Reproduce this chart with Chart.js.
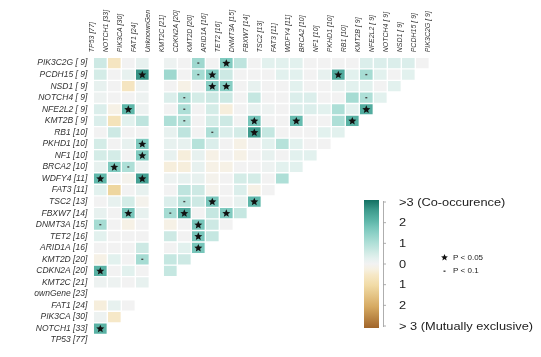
<!DOCTYPE html>
<html>
<head>
<meta charset="utf-8">
<script src="https://cdn.jsdelivr.net/npm/chart.js@4.4.1/dist/chart.umd.min.js"></script>
<style>
  html, body { margin: 0; padding: 0; background: #fff; }
  #wrap { width: 541px; height: 357px; }
</style>
</head>
<body>
<div id="wrap"><canvas id="chart" width="541" height="357"></canvas></div>
<script>
// --- Data ---
const colGenes = ['TP53 [77]', 'NOTCH1 [33]', 'PIK3CA [30]', 'FAT1 [24]', 'UnknownGen', 'KMT2C [21]',
  'CDKN2A [20]', 'KMT2D [20]', 'ARID1A [16]', 'TET2 [16]', 'DNMT3A [15]', 'FBXW7 [14]', 'TSC2 [13]',
  'FAT3 [11]', 'WDFY4 [11]', 'BRCA2 [10]', 'NF1 [10]', 'PKHD1 [10]', 'RB1 [10]', 'KMT2B [ 9]',
  'NFE2L2 [ 9]', 'NOTCH4 [ 9]', 'NSD1 [ 9]', 'PCDH15 [ 9]', 'PIK3C2G [ 9]'];

const rowGenes = ['PIK3C2G [ 9]', 'PCDH15 [ 9]', 'NSD1 [ 9]', 'NOTCH4 [ 9]', 'NFE2L2 [ 9]', 'KMT2B [ 9]',
  'RB1 [10]', 'PKHD1 [10]', 'NF1 [10]', 'BRCA2 [10]', 'WDFY4 [11]', 'FAT3 [11]', 'TSC2 [13]',
  'FBXW7 [14]', 'DNMT3A [15]', 'TET2 [16]', 'ARID1A [16]', 'KMT2D [20]', 'CDKN2A [20]', 'KMT2C [21]',
  'ownGene [23]', 'FAT1 [24]', 'PIK3CA [30]', 'NOTCH1 [33]', 'TP53 [77]'];

// log odds per row (row order as rowGenes, columns as colGenes); null = not tested
const logOdds = [
  [0.6, -0.6, 0, 0.2, null, 0.1, 0, 1.2, 0, 1.6, 0.8, 0, 0.3, 0.3, 0.3, 0, 0, 0, 0, 0.4, 0.4, 0.4, 0.4, 0],
  [0.5, 0, 0.2, 2.6, null, 1.2, 0, 1.1, 1.6, 0.6, 0, 0, 0, 0.3, 0.3, 0, 0.2, 2.2, 0.3, 1.1, 0.3, 0, 0.3],
  [0.2, 0, -0.6, 0.1, null, 0, -0.2, 0, 1.5, 1.5, 0, 0.2, 0, 0, 0.3, 0, 0, 0.2, 0.3, 0.3, 0, 0.3],
  [0.1, 0, 0, 0.1, null, 0.4, 1.0, 0.5, 0.6, 0.6, 0, 0.7, 0, 0, 0.4, 0.4, 0, 0, 1.1, 1.0, 0.3],
  [0.4, -0.2, 2.0, 0.1, null, 0, 1.0, 0, 0.5, -0.3, 0, 0.2, 0.1, 0, 0.4, 0.4, 0.3, 1.0, 0.3, 2.2],
  [0.4, -0.7, 0.3, 0.8, null, 1.0, 0.9, 0, 0.5, 0.6, 0, 1.7, 0, 0, 1.9, 0, 0, 1.0, 2.1],
  [0, 0.6, 0, 0, null, 0.2, 0.8, 0, 1.0, 0.4, 0.5, 2.5, 0.7, 0, 0, 0, 0.3, 0.3],
  [0.5, 0, 0.2, 1.6, null, 0.2, 0.2, 0.9, 0.4, 0, -0.2, 0, 0.3, 0.9, 0.3, 0, 0],
  [0.5, 0.5, 0, 1.6, null, 0.2, -0.3, 0.2, -0.2, 0, -0.2, 0, 0.2, 0, 0.3, 0.3],
  [0.2, 1.6, 1.0, 0.1, null, -0.3, -0.3, 0.2, -0.2, -0.2, 0, 0, 0.1, 0.3, 0.3],
  [2.0, 0, -0.1, 2.4, null, 0.1, 0.2, 0.2, -0.1, 0, 0.5, 0.5, 0, 1.0],
  [0.3, -1.1, 0, 0.2, null, 0, 0.8, 0.6, -0.1, 0, 0.4, -0.2, 0],
  [0, 0.2, 0.5, -0.1, null, 0.4, 0.9, 0.6, 1.7, 0, 0.2, 2.0],
  [0.2, 0, 1.7, 0.2, null, 1.1, 2.2, 0, 0.7, 1.6, 0.7],
  [1.1, 0, -0.2, 0, null, -0.2, 0, 1.7, 0.6, 0],
  [0.3, 0, 0, 0, null, 0.6, 0, 1.7, 0.7],
  [0, 0, 0, 0.6, null, 0, 0.3, 1.7],
  [-0.2, 0.3, 0, 1.1, null, 0.7, 0.6],
  [2.1, 0, 0.3, 0, null, 0.7],
  [0.1, 0.1, 0, 0.2, null],
  [null, null, null, null],
  [-0.3, 0.2, 0],
  [0.1, -0.5],
  [2.1],
  []
];

// [row, col] pairs
const sigStars = [[0, 9], [1, 3], [1, 8], [1, 17], [2, 8], [2, 9], [4, 2], [4, 19], [5, 11], [5, 14], [5, 18],
  [6, 11], [7, 3], [8, 3], [9, 1], [10, 0], [10, 3], [12, 8], [12, 11], [13, 2], [13, 6], [13, 9],
  [14, 7], [15, 7], [16, 7], [18, 0], [23, 0]];
const sigDots = [[0, 7], [1, 7], [1, 19], [3, 6], [3, 19], [4, 6], [5, 6], [6, 8], [9, 2], [12, 6], [13, 5],
  [14, 0], [17, 3]];

const legendTicks = ['>3 (Co-occurence)', '2', '1', '0', '1', '2', '> 3 (Mutually exclusive)'];

// --- Colour scale (BrBG-like) ---
const colorStops = [
  [-3, [160, 101, 42]], [-2, [214, 170, 98]], [-1, [241, 219, 166]], [-0.5, [246, 232, 200]],
  [-0.2, [246, 241, 230]], [0, [242, 242, 242]], [0.3, [226, 241, 238]], [0.6, [205, 233, 228]],
  [1.0, [174, 223, 215]], [1.6, [128, 203, 192]], [2.0, [95, 183, 170]], [2.5, [63, 156, 142]],
  [3, [18, 112, 98]]
];
function valueColor(v) {
  v = Math.max(-3, Math.min(3, v));
  for (let i = 1; i < colorStops.length; i++) {
    const [v1, c1] = colorStops[i];
    const [v0, c0] = colorStops[i - 1];
    if (v <= v1) {
      const t = (v - v0) / (v1 - v0);
      const c = c0.map((x, k) => Math.round(x + (c1[k] - x) * t));
      return `rgb(${c[0]},${c[1]},${c[2]})`;
    }
  }
  return 'rgb(18,112,98)';
}

// --- Datasets: one floating-bar row per gene ---
const datasets = rowGenes.map((g, r) => {
  const row = logOdds[r];
  return {
    label: g,
    data: colGenes.map((_, c) => (c < row.length && row[c] !== null) ? [r, r + 1] : null),
    backgroundColor: colGenes.map((_, c) => (c < row.length && row[c] !== null) ? valueColor(row[c]) : 'transparent'),
    borderColor: 'rgba(255,255,255,0.55)',
    borderWidth: 1,
    borderSkipped: false,
    grouped: false,
    barPercentage: 1,
    categoryPercentage: 1
  };
});

const FONT = "'Liberation Sans', Arial, sans-serif";

function drawStar(ctx, cx, cy, R) {
  const r = R * 0.45;
  ctx.beginPath();
  for (let i = 0; i < 10; i++) {
    const rad = i % 2 === 0 ? R : r;
    const a = -Math.PI / 2 + i * Math.PI / 5;
    const px = cx + rad * Math.cos(a), py = cy + rad * Math.sin(a);
    i === 0 ? ctx.moveTo(px, py) : ctx.lineTo(px, py);
  }
  ctx.closePath();
  ctx.fill();
}

const marksPlugin = {
  id: 'marks',
  afterDatasetsDraw(chart) {
    const { ctx, scales: { x, y } } = chart;
    ctx.save();
    ctx.fillStyle = '#111';
    sigStars.forEach(([r, c]) => drawStar(ctx, x.getPixelForValue(c), y.getPixelForValue(r + 0.5) + 0.3, 4.2));
    ctx.fillStyle = '#444';
    sigDots.forEach(([r, c]) => {
      const px = x.getPixelForValue(c), py = y.getPixelForValue(r + 0.5);
      ctx.fillRect(px - 1, py - 0.7, 2, 1.4);
    });
    ctx.restore();
  }
};

function stretchText(ctx, text, x, y, size, sx) {
  ctx.save();
  ctx.translate(x, y);
  ctx.scale(sx, 1);
  ctx.font = `${size}px ${FONT}`;
  ctx.fillText(text, 0, 0);
  ctx.restore();
}

const legendPlugin = {
  id: 'scaleLegend',
  afterDraw(chart) {
    const ctx = chart.ctx;
    const bx = 364, bw = 15, top = 200, bottom = 328;
    ctx.save();
    const grad = ctx.createLinearGradient(0, top, 0, bottom);
    for (let i = 0; i <= 24; i++) {
      const v = 3 - i * 0.25;
      grad.addColorStop(i / 24, valueColor(v));
    }
    ctx.fillStyle = grad;
    ctx.fillRect(bx, top, bw, bottom - top);
    // bracket + ticks
    ctx.strokeStyle = '#999';
    ctx.lineWidth = 0.8;
    ctx.beginPath();
    ctx.moveTo(383.5, top + 1);
    ctx.lineTo(383.5, bottom - 1);
    const tickYs = legendTicks.map((_, i) => top + 2 + i * (bottom - top - 4) / 6);
    tickYs.forEach(ty => { ctx.moveTo(383.5, ty); ctx.lineTo(386, ty); });
    ctx.stroke();
    ctx.fillStyle = '#222';
    ctx.textBaseline = 'middle';
    ctx.textAlign = 'left';
    legendTicks.forEach((t, i) => stretchText(ctx, t, 399, tickYs[i] + 1, 10, 1.28));
    // significance keys
    ctx.fillStyle = '#111';
    drawStar(ctx, 444.5, 257.5, 3.6);
    ctx.fillStyle = '#444';
    ctx.fillRect(443.5, 270.5, 2, 1.4);
    ctx.fillStyle = '#222';
    stretchText(ctx, 'P < 0.05', 453, 258, 8, 1.0);
    stretchText(ctx, 'P < 0.1', 453, 271, 8, 1.0);
    ctx.restore();
  }
};

new Chart(document.getElementById('chart'), {
  type: 'bar',
  data: { labels: colGenes, datasets },
  options: {
    responsive: false,
    animation: false,
    layout: { padding: { left: 0, top: 0, right: 97.7, bottom: 0 } },
    plugins: { legend: { display: false }, tooltip: { enabled: false } },
    scales: {
      x: {
        position: 'top',
        grid: { display: false, drawTicks: false },
        border: { display: false },
        ticks: {
          autoSkip: false, minRotation: 90, maxRotation: 90, padding: 5,
          color: '#333', font: { family: FONT, size: 7, style: 'italic' }
        },
        afterFit: (s) => { s.height = 57.3; }
      },
      y: {
        type: 'linear', min: 0, max: 25, reverse: true,
        grid: { display: false, drawTicks: false },
        border: { display: false },
        afterBuildTicks: (s) => { s.ticks = rowGenes.map((_, i) => ({ value: i + 0.5 })); },
        ticks: {
          autoSkip: false, padding: 6,
          color: '#333', font: { family: FONT, size: 8.5, style: 'italic' },
          callback: (v) => rowGenes[Math.floor(v)]
        },
        afterFit: (s) => { s.width = 93.3; }
      }
    }
  },
  plugins: [marksPlugin, legendPlugin]
});
</script>
</body>
</html>
